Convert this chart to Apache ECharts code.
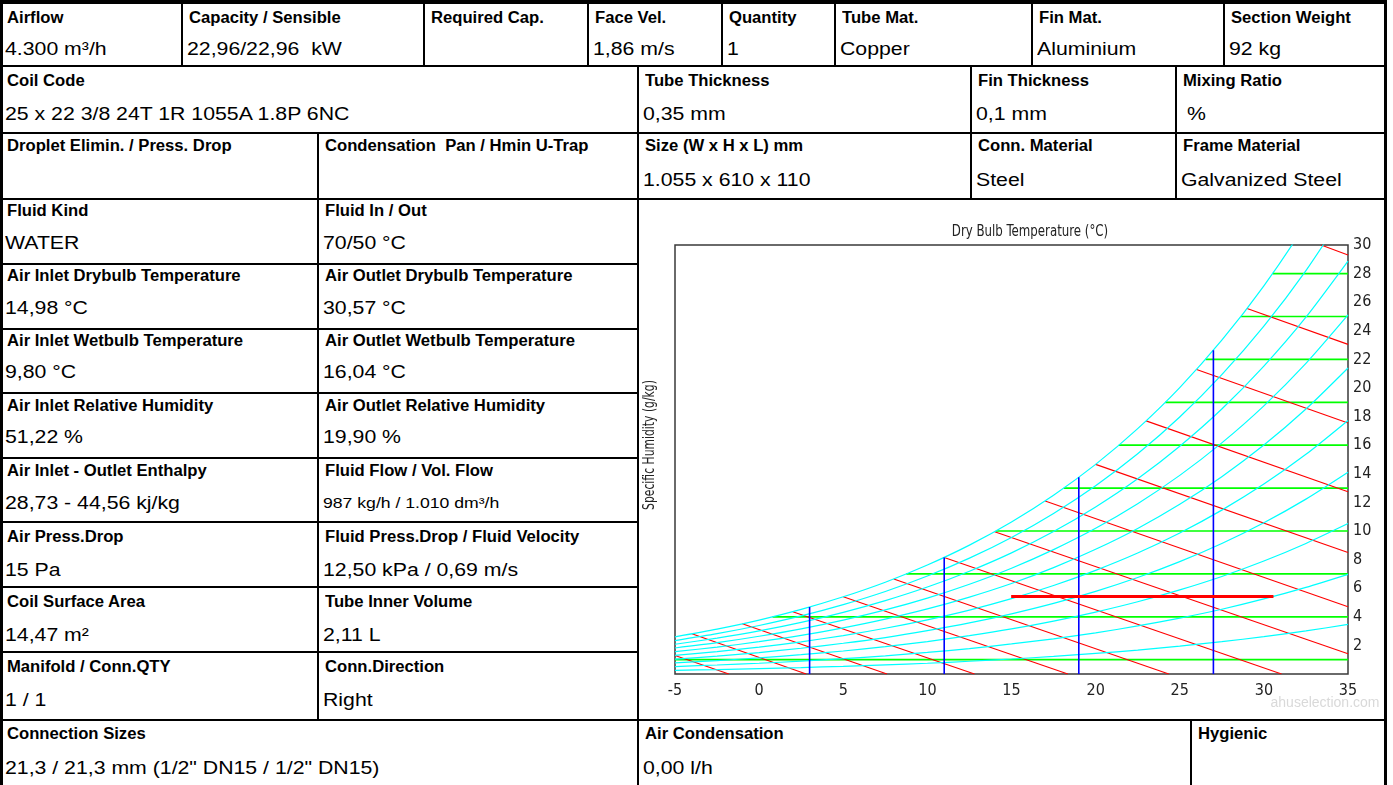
<!DOCTYPE html>
<html><head><meta charset="utf-8">
<script src="https://cdn.jsdelivr.net/npm/echarts@6/dist/echarts.min.js"></script>
<style>
html,body{margin:0;padding:0;background:#fff;width:1393px;height:785px;overflow:hidden;font-family:'Liberation Sans',Arial,sans-serif;}
#sheet{position:absolute;left:0;top:0;width:1393px;height:785px;}
.ln{position:absolute;background:#000;}
.t{position:absolute;white-space:pre;transform-origin:0 50%;color:#000;}
.lab{font-weight:bold;font-size:16px;line-height:20px;transform:scaleX(1.04);}
.val{font-size:17.5px;line-height:22px;transform:scaleX(1.215);}
.sm{font-size:14.5px;line-height:18px;transform:scaleX(1.215);}
#chart{position:absolute;left:0;top:0;width:1393px;height:785px;pointer-events:none;}
</style></head>
<body><div id="sheet"></div><div id="chart"></div>
<script>
// ---------------- chart data ----------------
const dryBulbTemps = [-5,-2.5,0,2.5,5,7.5,10,12.5,15,17.5,20,22.5,25,27.5,30,32.5,35];
const rh10  = [0.26,0.31,0.38,0.45,0.54,0.64,0.75,0.89,1.05,1.23,1.44,1.67,1.95,2.26,2.61,3.01,3.47];
const rh20  = [0.52,0.63,0.75,0.90,1.07,1.27,1.51,1.78,2.10,2.46,2.88,3.36,3.91,4.53,5.25,6.06,6.97];
const rh30  = [0.78,0.94,1.13,1.35,1.61,1.91,2.27,2.68,3.15,3.70,4.33,5.05,5.88,6.82,7.90,9.13,10.52];
const rh40  = [1.04,1.25,1.50,1.80,2.15,2.55,3.03,3.57,4.21,4.94,5.78,6.75,7.86,9.13,10.58,12.23,14.11];
const rh50  = [1.30,1.57,1.88,2.25,2.69,3.20,3.79,4.47,5.27,6.19,7.25,8.46,9.86,11.46,13.28,15.36,17.73];
const rh60  = [1.56,1.88,2.26,2.70,3.23,3.84,4.55,5.38,6.33,7.44,8.72,10.18,11.87,13.80,16.01,18.53,21.40];
const rh70  = [1.82,2.19,2.64,3.16,3.77,4.48,5.31,6.28,7.40,8.70,10.19,11.91,13.89,16.16,18.75,21.72,25.11];
const rh80  = [2.08,2.51,3.01,3.61,4.31,5.13,6.08,7.19,8.47,9.96,11.68,13.65,15.93,18.53,21.53,24.95,28.87];
const rh90  = [2.34,2.82,3.39,4.06,4.85,5.77,6.85,8.10,9.55,11.23,13.17,15.40,17.97,20.93,24.32,28.21,32.67];
const rh100 = [2.60,3.14,3.77,4.52,5.40,6.42,7.62,9.01,10.63,12.50,14.66,17.16,20.03,23.34,27.14,31.51,36.51];
const rhCurves = [rh10,rh20,rh30,rh40,rh50,rh60,rh70,rh80,rh90,rh100];

// constant wet-bulb lines (-7, -4, ... 32 °C): start and end points [T, g/kg]
const wetBulbStart = [[-5,1.3],[-4,2.81],[-1,3.51],[2,4.36],[5,5.40],[8,6.65],[11,8.15],[14,9.95],[17,12.10],[20,14.66],[23,17.70],[26,21.30],[29,25.56],[33.4,30]];
const wetBulbEnd   = [[-1.8,0],[2.8,0],[7.6,0],[12.8,0],[18.35,0],[24.35,0],[31.05,0],[35,1.42],[35,4.7],[35,8.5],[35,12.75],[35,17.55],[35,23.05],[35,29.3]];

// constant specific humidity lines (g/kg) and dew-point start temperature
const humidityLevels = [1,4,7,10,13,16,19,22,25,28];
const humidityStartT = [-5,0.8,8.75,14.07,18.11,21.38,24.14,26.53,28.63,30.52];

// constant dry bulb lines and their saturation height
const dryBulbMarks = [3,11,19,27];
const dryBulbTop   = [4.68,8.15,13.76,22.64];

// coil heating process: inlet -> outlet
const processTemps = [14.98,30.57];
const processHumidity = [5.42,5.42];

const xTickMin = -5, xTickMax = 35, xTickStep = 5;
const yTickMin = 0, yTickMax = 30, yTickStep = 2;

// ---------------- table ----------------
const sheet = document.getElementById('sheet');
function box(l,t,w,h){const d=document.createElement('div');d.className='ln';d.style.cssText+=`left:${l}px;top:${t}px;width:${w}px;height:${h}px;`;sheet.appendChild(d);}
function hl(x1,x2,y){box(x1,y-1,x2-x1,2);}
function vl(x,y1,y2){box(x-1,y1,2,y2-y1);}
function txt(x,cy,s,cls){const d=document.createElement('div');d.className='t '+cls;const lh=cls==='lab'?20:(cls==='sm'?18:22);d.style.left=x+'px';d.style.top=(cy-lh/2)+'px';d.textContent=s;sheet.appendChild(d);}

box(0,0,1387,4);        // top bar
box(0,0,2.5,785);       // left border
box(1383.5,0,3.5,785);  // right border
hl(0,1387,65.7); hl(0,1387,132.5); hl(0,1387,199.3);
[264,328.5,393,457.5,522,587,652].forEach(y=>hl(0,638,y));
hl(0,1387,719.5);
[182,424,588.3,722,835,1031.7,1223.5].forEach(x=>vl(x,4,65.7));
[637.5,971,1176].forEach(x=>vl(x,65.7,132.5));
[318,637.5,971,1176].forEach(x=>vl(x,132.5,199.3));
vl(318,199.3,719.5);
vl(637.5,199.3,785);
vl(1191,719.5,785);

function cell(lineX,labCy,valCy,label,value,cls){
  const first=lineX<=2;
  txt(first?7.3:lineX+7,labCy,label,'lab');
  if(value) txt(first?4.5:lineX+5,valCy,value,cls||'val');
}
// row 1
cell(0,17.5,49,'Airflow','4.300 m³/h');
cell(182,17.5,49,'Capacity / Sensible','22,96/22,96  kW');
cell(424,17.5,49,'Required Cap.','');
cell(588.3,17.5,49,'Face Vel.','1,86 m/s');
cell(722,17.5,49,'Quantity','1');
cell(835,17.5,49,'Tube Mat.','Copper');
cell(1031.7,17.5,49,'Fin Mat.','Aluminium');
cell(1223.5,17.5,49,'Section Weight','92 kg');
// row 2
cell(0,81,113.7,'Coil Code','25 x 22 3/8 24T 1R 1055A 1.8P 6NC');
cell(637.5,81,113.7,'Tube Thickness','0,35 mm');
cell(971,81,113.7,'Fin Thickness','0,1 mm');
cell(1176,81,113.7,'Mixing Ratio',' %');
// row 3
cell(0,146,180,'Droplet Elimin. / Press. Drop','');
cell(318,146,180,'Condensation  Pan / Hmin U-Trap','');
cell(637.5,146,180,'Size (W x H x L) mm','1.055 x 610 x 110');
cell(971,146,180,'Conn. Material','Steel');
cell(1176,146,180,'Frame Material','Galvanized Steel');
// left block
const leftRows = [
 ['Fluid Kind','WATER','Fluid In / Out','70/50 °C'],
 ['Air Inlet Drybulb Temperature','14,98 °C','Air Outlet Drybulb Temperature','30,57 °C'],
 ['Air Inlet Wetbulb Temperature','9,80 °C','Air Outlet Wetbulb Temperature','16,04 °C'],
 ['Air Inlet Relative Humidity','51,22 %','Air Outlet Relative Humidity','19,90 %'],
 ['Air Inlet - Outlet Enthalpy','28,73 - 44,56 kj/kg','Fluid Flow / Vol. Flow','987 kg/h / 1.010 dm³/h'],
 ['Air Press.Drop','15 Pa','Fluid Press.Drop / Fluid Velocity','12,50 kPa / 0,69 m/s'],
 ['Coil Surface Area','14,47 m²','Tube Inner Volume','2,11 L'],
 ['Manifold / Conn.QTY','1 / 1','Conn.Direction','Right']
];
const labY=[211,276,341,406,471,537,602,667], valY=[243,308,372,437,503,570,635,700];
leftRows.forEach((r,i)=>{
  cell(0,labY[i],valY[i],r[0],r[1]);
  cell(318,labY[i],valY[i],r[2],r[3],i===4?'sm':'val');
});
cell(0,734,768,'Connection Sizes','21,3 / 21,3 mm (1/2" DN15 / 1/2" DN15)');
cell(637.5,734,768,'Air Condensation','0,00 l/h');
cell(1191,734,768,'Hygienic','');

// ---------------- chart ----------------
const NARROW = "'Liberation Sans Narrow','Arial Narrow','DejaVu Sans Condensed','Liberation Sans',sans-serif";
const base = {type:'line',showSymbol:false,symbol:'none',silent:true,animation:false,clip:true};
const series = [];
humidityLevels.forEach((h,i)=>series.push(Object.assign({},base,{
  data:[[humidityStartT[i],h],[35,h]],lineStyle:{color:'#00ff00',width:1.7}})));
wetBulbStart.forEach((s,i)=>series.push(Object.assign({},base,{
  data:[s,wetBulbEnd[i]],lineStyle:{color:'#ff0000',width:1.1}})));
rhCurves.forEach(arr=>series.push(Object.assign({},base,{
  smooth:0.25,
  data:dryBulbTemps.map((t,j)=>[t,arr[j]]),lineStyle:{color:'#00ffff',width:1.2}})));
dryBulbMarks.forEach((t,i)=>series.push(Object.assign({},base,{
  data:[[t,0],[t,dryBulbTop[i]]],lineStyle:{color:'#0000ff',width:1.6}})));
series.push(Object.assign({},base,{
  data:processTemps.map((t,i)=>[t,processHumidity[i]]),lineStyle:{color:'#ff0000',width:3}}));

const chart = echarts.init(document.getElementById('chart'),null,{renderer:'canvas'});
chart.setOption({
  animation:false,
  backgroundColor:'transparent',
  grid:{left:675,top:245,width:673,height:429,show:true,borderColor:'#3a3a3a',borderWidth:1.5,backgroundColor:'transparent',containLabel:false,outerBoundsMode:'none'},
  xAxis:{type:'value',min:xTickMin,max:xTickMax,interval:xTickStep,
    axisLine:{show:false},axisTick:{show:false},splitLine:{show:false},
    axisLabel:{margin:9,color:'#222',fontSize:16,fontFamily:NARROW}},
  yAxis:{type:'value',position:'right',min:yTickMin,max:yTickMax,interval:yTickStep,
    axisLine:{show:false},axisTick:{show:false},splitLine:{show:false},
    axisLabel:{margin:5,color:'#222',fontSize:16,fontFamily:NARROW,showMinLabel:false,
      formatter:v=>v===0?'':String(v)}},
  graphic:[
    {type:'text',x:1030,y:232,scaleX:0.82,silent:true,style:{text:'Dry Bulb Temperature (°C)',align:'center',verticalAlign:'middle',textAlign:'center',textVerticalAlign:'middle',fill:'#222',fontSize:16,fontFamily:NARROW}},
    {type:'text',x:650,y:445,rotation:Math.PI/2,scaleX:0.8,silent:true,style:{text:'Specific Humidity (g/kg)',align:'center',verticalAlign:'middle',textAlign:'center',textVerticalAlign:'middle',fill:'#222',fontSize:15,fontFamily:NARROW}},
    {type:'text',x:1325,y:703,silent:true,style:{text:'ahuselection.com',align:'center',verticalAlign:'middle',textAlign:'center',textVerticalAlign:'middle',fill:'#d9d9d9',fontSize:14,fontFamily:"'Liberation Sans',Arial,sans-serif"}}
  ],
  series:series
});
</script></body></html>
